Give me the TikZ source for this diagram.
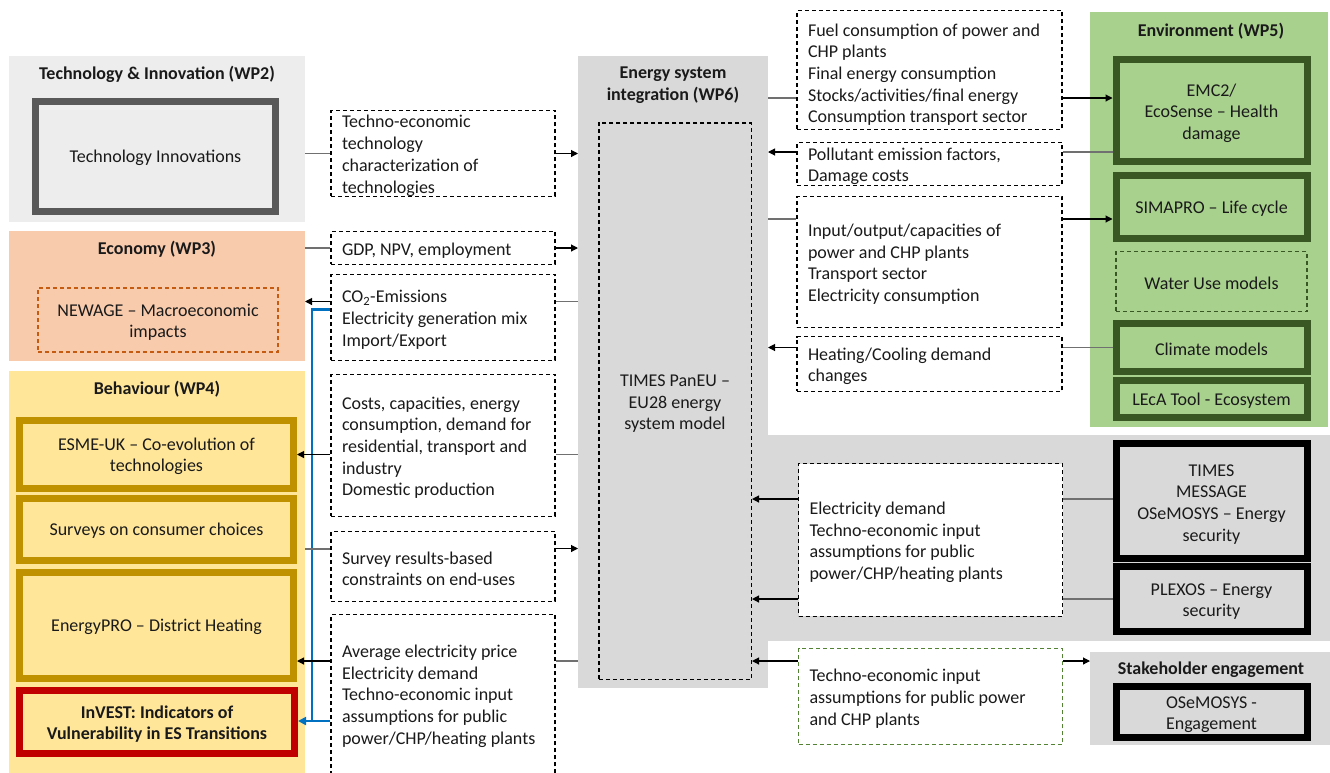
\documentclass[tikz,border=0pt]{standalone}
\usepackage{fontspec}
\setmainfont{Carlito}
\usetikzlibrary{arrows.meta,calc}
\definecolor{pWPtwo}{HTML}{EDEDED}
\definecolor{pWPthree}{HTML}{F8CBAD}
\definecolor{pWPfour}{HTML}{FFE699}
\definecolor{pWPsix}{HTML}{D9D9D9}
\definecolor{pWPfive}{HTML}{A9D18E}
\definecolor{bGray}{HTML}{595959}
\definecolor{bOrange}{HTML}{C55A11}
\definecolor{bGold}{HTML}{BF9000}
\definecolor{bRed}{HTML}{C00000}
\definecolor{bGreen}{HTML}{385723}
\definecolor{bLGreen}{HTML}{548235}
\definecolor{bBlue}{HTML}{0070C0}
\definecolor{txt}{HTML}{1A1A1A}
\definecolor{lineGray}{HTML}{707070}
\tikzset{
  panel/.style={fill=#1, draw=none, inner sep=0pt, outer sep=0pt},
  ptitle/.style={font=\fontsize{18}{21.7}\selectfont\bfseries, align=center, inner sep=0pt, text=txt},
  lift/.style={execute at begin node={\spaceskip=\fontdimen2\font\xspaceskip=\fontdimen2\font\rule{0pt}{#1}}},
  mbox/.style={draw=#1, line width=7pt, align=center, inner sep=1pt, text=txt, lift=15.5pt},
  tbox/.style={draw=black, dash pattern=on 4pt off 3pt, line width=1.4pt, fill=white,
    align=left, inner xsep=11pt, inner ysep=0pt, text width=#1, text=txt, lift=17pt},
  dbox/.style={draw=#1, dash pattern=on 4pt off 3pt, line width=1.8pt, align=center, inner sep=1pt, text=txt, lift=16pt},
  plain/.style={draw=lineGray, line width=1.1pt},
  arr/.style={draw=black, line width=1.1pt, -{Triangle[length=7pt,width=7pt]}},
  bline/.style={draw=bBlue, line width=2.2pt},
  barr/.style={draw=bBlue, line width=2.2pt, -{Triangle[length=8pt,width=8pt]}},
}
\begin{document}
\begin{tikzpicture}[x=1pt,y=-1pt,font=\fontsize{18}{21.7}\selectfont]
\useasboundingbox (0,0) rectangle (1330,772);
\clip (0,0) rectangle (1330,772);
\fill[white] (0,0) rectangle (1330,772);

% ---------- panels ----------
\node[panel=pWPtwo, minimum width=296pt, minimum height=166pt] (wp2) at (157,139) {};
\node[panel=pWPthree, minimum width=296pt, minimum height=130pt] (wp3) at (157,296) {};
\node[panel=pWPfour, minimum width=296pt, minimum height=404pt] (wp4) at (157,573) {};
\node[panel=pWPsix, minimum width=190pt, minimum height=632pt] (wp6) at (673,372) {};
\node[panel=pWPsix, minimum width=562pt, minimum height=206pt] (band) at (1049,538) {};
\node[panel=pWPfive, minimum width=238pt, minimum height=415pt] (wp5) at (1209,219.5) {};
\node[panel=pWPsix, minimum width=240pt, minimum height=93pt] (stake) at (1210,698.5) {};

% ---------- panel titles ----------
\node[ptitle] (t2) at (157,74) {Technology \& Innovation (WP2)};
\node[ptitle] (t3) at (157,249) {Economy (WP3)};
\node[ptitle] (t4) at (157,389) {Behaviour (WP4)};
\node[ptitle] (t6) at (673,85) {Energy system\\integration (WP6)};
\node[ptitle] (t5) at (1211,31) {Environment (WP5)};
\node[ptitle] (ts) at (1211,670) {Stakeholder engagement};

% ---------- model boxes ----------
\node[mbox=bGray, fill=pWPtwo, minimum width=240pt, minimum height=110pt] (techinn) at (155.5,156.5) {Technology Innovations};
\node[dbox=bOrange, text width=230pt, lift=17pt, minimum width=240pt, minimum height=64pt] (newage) at (158,320) {NEWAGE – Macroeconomic\\impacts};
\node[mbox=bGold, fill=pWPfour, text width=262pt, lift=16pt, minimum width=274pt, minimum height=68pt] (esme) at (156.5,454.5) {ESME-UK – Co-evolution of\\technologies};
\node[mbox=bGold, fill=pWPfour, minimum width=274pt, minimum height=62pt] (surveys) at (156.5,529.5) {Surveys on consumer choices};
\node[mbox=bGold, fill=pWPfour, minimum width=274pt, minimum height=106pt] (energypro) at (156.5,625.5) {EnergyPRO – District Heating};
\node[mbox=bRed, fill=pWPfour, text width=266pt, lift=17pt, minimum width=275pt, minimum height=63pt, font=\fontsize{18}{21.7}\selectfont\bfseries] (invest) at (157,722) {InVEST: Indicators of\\Vulnerability in ES Transitions};

\node[dbox=black, line width=1.5pt, text width=145pt, lift=17pt, minimum width=152.5pt, minimum height=556.5pt] (timesbox) at (675,401) {TIMES PanEU –\\EU28 energy\\system model};

\node[mbox=bGreen, fill=pWPfive, text width=182pt, lift=18pt, minimum width=191pt, minimum height=102pt] (emc2) at (1211.5,110.5) {EMC2/\\EcoSense – Health\\damage};
\node[mbox=bGreen, fill=pWPfive, minimum width=191pt, minimum height=63pt] (simapro) at (1211.5,207) {SIMAPRO – Life cycle};
\node[dbox=bGreen, minimum width=191pt, minimum height=60pt] (water) at (1211.5,281.5) {Water Use models};
\node[mbox=bGreen, fill=pWPfive, minimum width=191pt, minimum height=48pt] (climate) at (1211.5,347.5) {Climate models};
\node[mbox=bGreen, fill=pWPfive, minimum width=191pt, minimum height=37pt] (leca) at (1211.5,399) {LEcA Tool - Ecosystem};

\node[mbox=black, fill=pWPsix, text width=182pt, lift=18pt, minimum width=191pt, minimum height=115pt] (timesmsg) at (1211.5,501) {TIMES\\MESSAGE\\OSeMOSYS – Energy\\security};
\node[mbox=black, fill=pWPsix, text width=182pt, lift=17pt, minimum width=191pt, minimum height=65pt] (plexos) at (1211.5,599) {PLEXOS – Energy\\security};
\node[mbox=black, fill=pWPsix, text width=182pt, lift=17pt, minimum width=191pt, minimum height=51pt] (osemosys) at (1211.5,712) {OSeMOSYS -\\Engagement};

% ---------- data boxes (left) ----------
\node[tbox=202pt, minimum height=85.5pt] (A) at (443,153.5) {Techno-economic\\technology\\characterization of\\technologies};
\node[tbox=202pt, minimum height=32.5pt] (B) at (443,248) {GDP, NPV, employment};
\node[tbox=202pt, minimum height=85.5pt] (C) at (443,317.5) {CO\textsubscript{2}-Emissions\\Electricity generation mix\\Import/Export};
\node[tbox=202pt, minimum height=141.5pt] (D) at (443,445.5) {Costs, capacities, energy\\consumption, demand for\\residential, transport and\\industry\\Domestic production};
\node[tbox=202pt, minimum height=69.5pt] (E) at (443,566.5) {Survey results-based\\constraints on end-uses};
\node[tbox=202pt, minimum height=158.5pt] (F) at (443,694) {Average electricity price\\Electricity demand\\Techno-economic input\\assumptions for public\\power/CHP/heating plants};

% ---------- data boxes (right) ----------
\node[tbox=243pt, lift=22pt, minimum height=118.5pt] (G) at (929.5,70) {Fuel consumption of power and\\CHP plants\\Final energy consumption\\Stocks/activities/final energy\\Consumption transport sector};
\node[tbox=243pt, minimum height=42.5pt] (H) at (929.5,164) {Pollutant emission factors,\\Damage costs};
\node[tbox=243pt, minimum height=130.5pt] (I) at (929.5,262) {Input/output/capacities of\\power and CHP plants\\Transport sector\\Electricity consumption};
\node[tbox=243pt, minimum height=54.5pt] (J) at (929.5,364) {Heating/Cooling demand\\changes};
\node[tbox=242pt, minimum height=152.5pt] (K) at (930.5,540) {Electricity demand\\Techno-economic input\\assumptions for public\\power/CHP/heating plants};
\node[tbox=242pt, minimum height=95.5pt, draw=bLGreen] (L) at (930.5,696.5) {Techno-economic input\\assumptions for public power\\and CHP plants};

% ---------- connectors (left) ----------
\draw[plain] (A.west -| wp2.east) -- (A.west);
\draw[arr] (A.east) -- (A.east -| wp6.west);
\draw[plain] (B.west -| wp3.east) -- (B.west);
\draw[arr] (B.east) -- (B.east -| wp6.west);
\coordinate (c1) at ([yshift=16pt]C.west);
\coordinate (c2) at ([yshift=16pt]C.east);
\draw[plain] (c2 -| wp6.west) -- (c2);
\draw[arr] (c1) -- (c1 -| wp3.east);
\coordinate (cb) at ([yshift=8pt]C.west);
\coordinate (bj) at ([xshift=-18pt,yshift=-27pt]F.west);
\draw[barr] (cb) -| (bj) -- (bj -| invest.east);
\draw[bline] ([yshift=-27pt]F.west) -- (bj);
\draw[arr] (D.west |- esme.east) -- (esme.east);
\draw[plain] (esme.east -| wp6.west) -- (esme.east -| D.east);
\coordinate (e1) at ([yshift=17.5pt]E.west);
\coordinate (e2) at ([yshift=18pt]E.east);
\draw[plain] (e1 -| wp4.east) -- (e1);
\draw[arr] (e2) -- (e2 -| wp6.west);
\coordinate (f1) at ([yshift=33pt]F.west);
\draw[arr] (f1) -- (f1 -| energypro.east);
\draw[plain] (f1 -| wp6.west) -- (f1 -| F.east);

% ---------- connectors (right) ----------
\coordinate (g1) at ([yshift=-28pt]G.west);
\draw[plain] (g1 -| wp6.east) -- (g1);
\draw[arr] (g1 -| G.east) -- (g1 -| emc2.west);
\coordinate (h1) at ([yshift=12pt]H.west);
\draw[plain] (h1 -| emc2.west) -- (h1 -| H.east);
\draw[arr] (h1) -- (h1 -| wp6.east);
\coordinate (i1) at ([yshift=43pt]I.west);
\draw[plain] (i1 -| wp6.east) -- (i1);
\draw[arr] (i1 -| I.east) -- (i1 -| simapro.west);
\draw[plain] (climate.west) -- (climate.west -| J.east);
\draw[arr] (climate.west -| J.west) -- (climate.west -| wp6.east);
\coordinate (k1) at ([yshift=2pt]timesmsg.west);
\draw[plain] (k1) -- (k1 -| K.east);
\draw[arr] (k1 -| K.west) -- (k1 -| timesbox.east);
\draw[plain] (plexos.west) -- (plexos.west -| K.east);
\draw[arr] (plexos.west -| K.west) -- (plexos.west -| timesbox.east);
\coordinate (l1) at ([yshift=35.5pt]L.west);
\draw[arr] (l1) -- (l1 -| timesbox.east);
\draw[arr] (l1 -| L.east) -- (l1 -| stake.west);
\end{tikzpicture}
\end{document}
